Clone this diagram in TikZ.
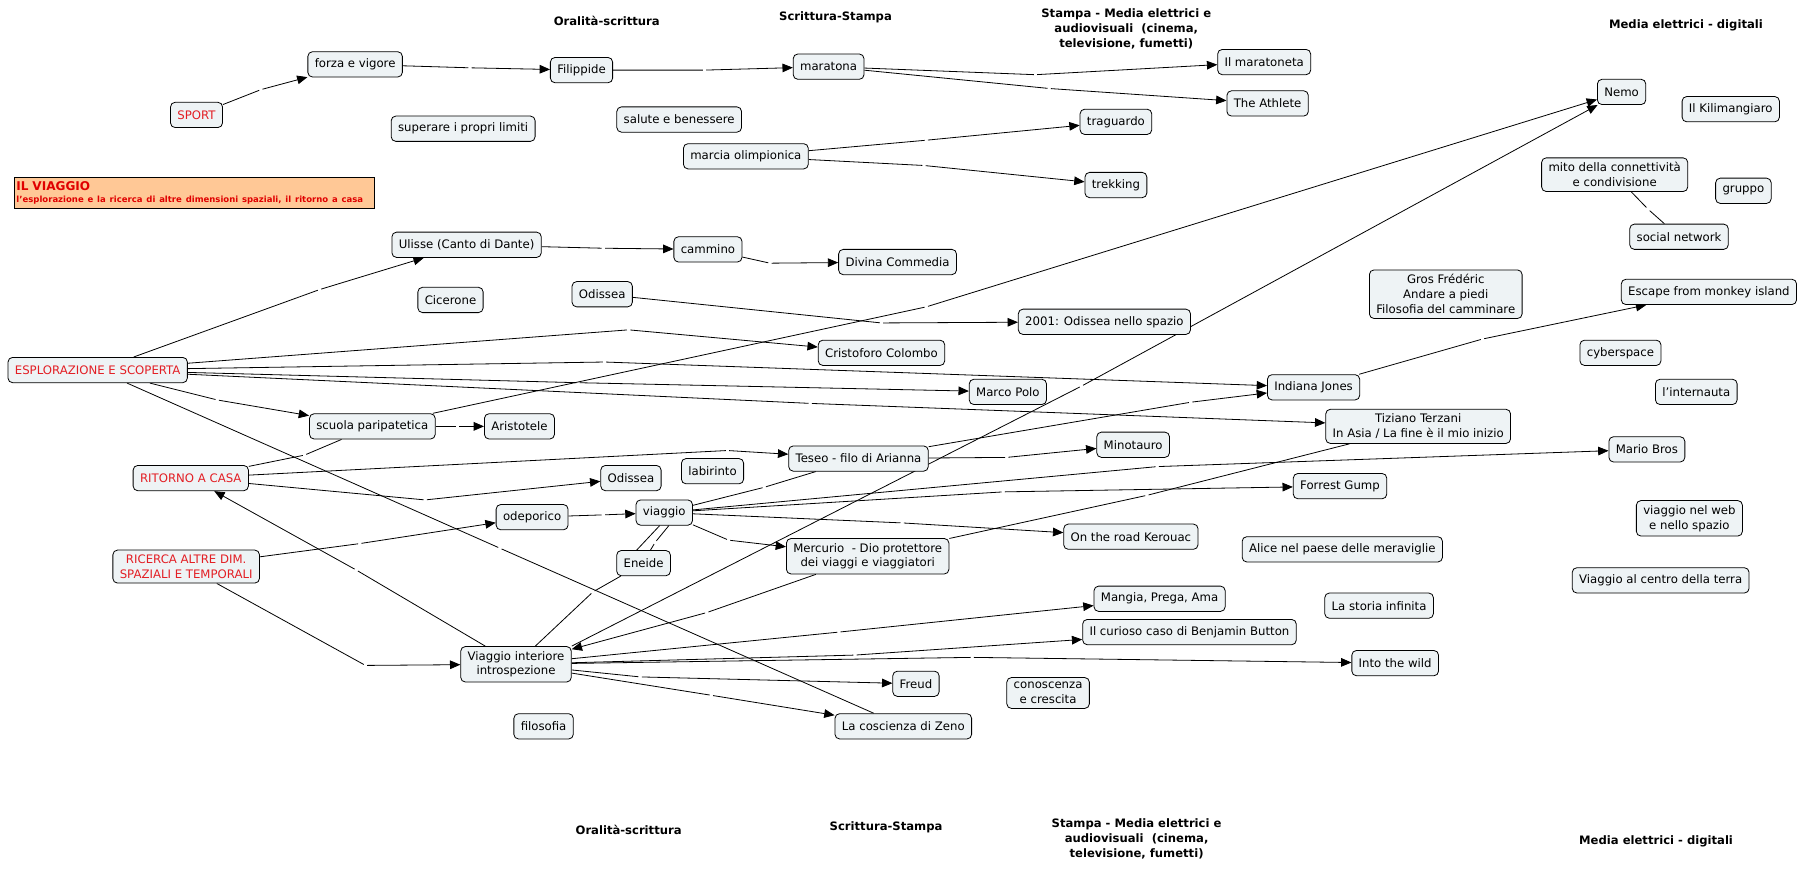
\documentclass[tikz,border=0pt]{standalone}
\usepackage{fontspec}
\setmainfont{DejaVu Sans}
\usepackage{tikz}
\usetikzlibrary{arrows.meta, positioning, backgrounds}
\definecolor{cmapfill}{HTML}{EEF3F5}
\definecolor{cmapred}{HTML}{E31E24}
\definecolor{titlefill}{HTML}{FFC896}
\definecolor{titlered}{HTML}{E00000}

\tikzset{
  concept/.style={draw=black, fill=cmapfill, rounded corners=4pt, line width=0.7pt,
    inner xsep=6pt, inner ysep=4pt, minimum height=22pt, align=center,
    font=\fontsize{10.2}{13}\selectfont},
  redconcept/.style={concept, text=cmapred},
  era/.style={font=\bfseries\fontsize{10.1}{12.8}\selectfont, align=center},
  lp/.style={inner sep=0pt, minimum size=2.5pt},
  conn/.style={line width=0.7pt, -{Triangle[length=9pt,width=7.5pt]}},
  plain/.style={line width=0.7pt},
}

\begin{document}
\begin{tikzpicture}[x=1pt, y=-1pt]
\path[use as bounding box] (0,0) rectangle (1568,758);

% eras, top and bottom
\node[era] (eraA) at (528,18) {Oralità-scrittura};
\node[era] (eraB) at (727,15) {Scrittura-Stampa};
\node[era] (eraC) at (980,25) {Stampa - Media elettrici e\\audiovisuali\ \ (cinema,\\televisione, fumetti)};
\node[era] (eraD) at (1467,22) {Media elettrici - digitali};
\node[era] (eraE) at (547,722) {Oralità-scrittura};
\node[era] (eraF) at (771,720) {Scrittura-Stampa};
\node[era] (eraG) at (989,730) {Stampa - Media elettrici e\\audiovisuali\ \ (cinema,\\televisione, fumetti)};
\node[era] (eraH) at (1441,732) {Media elettrici - digitali};

% title
\node[draw=black, fill=titlefill, line width=0.7pt, anchor=north west, inner xsep=2pt, inner ysep=2pt,
  text width=309pt, minimum height=27pt, align=left, text=titlered] (title) at (12,154)
  {{\bfseries\fontsize{10.5}{12}\selectfont IL VIAGGIO}\\[-1pt]
   {\bfseries\fontsize{7.4}{8.5}\selectfont l'esplorazione e la ricerca di altre dimensioni spaziali, il ritorno a casa}};

% concepts
\node[redconcept] (sport) at (171,100) {SPORT};
\node[concept] (forza) at (309,56) {forza e vigore};
\node[concept] (filippide) at (506,61) {Filippide};
\node[concept] (maratona) at (721,58) {maratona};
\node[concept] (maratoneta) at (1100,54) {Il maratoneta};
\node[concept] (athlete) at (1103,90) {The Athlete};
\node[concept] (nemo) at (1411,80) {Nemo};
\node[concept] (kili) at (1506,95) {Il Kilimangiaro};
\node[concept] (limiti) at (403,112) {superare i propri limiti};
\node[concept] (salute) at (591,104) {salute e benessere};
\node[concept] (marcia) at (649,136) {marcia olimpionica};
\node[concept] (traguardo) at (971,106) {traguardo};
\node[concept] (trekking) at (971,161) {trekking};
\node[concept] (mito) at (1405,152) {mito della connettività\\e condivisione};
\node[concept] (gruppo) at (1517,166) {gruppo};
\node[concept] (social) at (1461,206) {social network};
\node[concept] (ulisse) at (406,213) {Ulisse (Canto di Dante)};
\node[concept] (cammino) at (616,217) {cammino};
\node[concept] (divina) at (781,228) {Divina Commedia};
\node[concept] (gros) at (1258,256) {Gros Frédéric\\Andare a piedi\\Filosofia del camminare};
\node[concept] (escape) at (1487,254) {Escape from monkey island};
\node[concept] (cicerone) at (392,261) {Cicerone};
\node[concept] (odisseaA) at (524,256) {Odissea};
\node[concept] (spazio) at (961,280) {2001: Odissea nello spazio};
\node[concept] (colombo) at (767,307) {Cristoforo Colombo};
\node[concept] (cyber) at (1410,307) {cyberspace};
\node[redconcept] (esplor) at (85,322) {ESPLORAZIONE E SCOPERTA};
\node[concept] (marcopolo) at (877,341) {Marco Polo};
\node[concept] (indiana) at (1143,337) {Indiana Jones};
\node[concept] (internauta) at (1476,341) {l'internauta};
\node[concept] (scuola) at (324,371) {scuola paripatetica};
\node[concept] (aristotele) at (452,371) {Aristotele};
\node[concept] (terzani) at (1234,371) {Tiziano Terzani\\In Asia / La fine è il mio inizio};
\node[concept] (minotauro) at (986,387) {Minotauro};
\node[concept] (teseo) at (747,399) {Teseo - filo di Arianna};
\node[concept] (mario) at (1433,391) {Mario Bros};
\node[redconcept] (ritorno) at (166,416) {RITORNO A CASA};
\node[concept] (odisseaB) at (549,416) {Odissea};
\node[concept] (labirinto) at (620,410) {labirinto};
\node[concept] (forrest) at (1166,423) {Forrest Gump};
\node[concept] (web) at (1470,451) {viaggio nel web\\e nello spazio};
\node[concept] (odeporico) at (463,450) {odeporico};
\node[concept] (viaggio) at (578,446) {viaggio};
\node[concept] (kerouac) at (984,467) {On the road Kerouac};
\node[concept] (alice) at (1168,478) {Alice nel paese delle meraviglie};
\node[redconcept] (ricerca) at (162,493) {RICERCA ALTRE DIM.\\SPAZIALI E TEMPORALI};
\node[concept] (eneide) at (560,490) {Eneide};
\node[concept] (mercurio) at (755,484) {Mercurio\ \ - Dio protettore\\dei viaggi e viaggiatori};
\node[concept] (centro) at (1445,505) {Viaggio al centro della terra};
\node[concept] (mangia) at (1009,521) {Mangia, Prega, Ama};
\node[concept] (storia) at (1200,527) {La storia infinita};
\node[concept] (button) at (1035,550) {Il curioso caso di Benjamin Button};
\node[concept] (interiore) at (449,578) {Viaggio interiore\\introspezione};
\node[concept] (wild) at (1214,577) {Into the wild};
\node[concept] (freud) at (797,595) {Freud};
\node[concept] (crescita) at (912,603) {conoscenza\\e crescita};
\node[concept] (filosofia) at (473,632) {filosofia};
\node[concept] (zeno) at (786,632) {La coscienza di Zeno};

% empty linking phrases
\foreach \n/\x/\y in {l1/227/78, l2/409/59, l3/613/61, l4/901/65, l5/913/77,
  l6/806/122, l7/804/144, l8/278/252, l9/525/216, l10/670/229, l11/767/281,
  l12/547/287, l13/526/315, l14/503/333, l15/705/351, l16/189/348, l17/398/371,
  l18/806/267, l19/435/477, l20/265/396, l21/633/392, l22/370/435, l23/310/496,
  l24/313/473, l25/318/579, l26/525/448, l27/665/424, l28/1007/406, l29/873/428,
  l30/785/455, l31/634/470, l32/570/472, l33/516/515, l34/941/336, l35/615/533,
  l36/998/431, l37/1036/350, l38/876/398, l39/1290/295, l40/1434/182,
  l41/730/550, l42/744/570, l43/846/572, l44/557/589, l45/619/605}
  \node[lp] (\n) at (\x,\y) {};

\begin{scope}[on background layer]
\fill[white] (0,0) rectangle (1568,758);
% sport
\draw[conn] (sport) -- (l1) -- (forza);
\draw[conn] (forza) -- (l2) -- (filippide);
\draw[conn] (filippide) -- (l3) -- (maratona);
\draw[conn] (maratona) -- (l4) -- (maratoneta);
\draw[conn] (maratona) -- (l5) -- (athlete);
\draw[conn] (marcia) -- (l6) -- (traguardo);
\draw[conn] (marcia) -- (l7) -- (trekking);
% esplorazione
\draw[conn] (esplor) -- (l8) -- (ulisse);
\draw[conn] (ulisse) -- (l9) -- (cammino);
\draw[conn] (cammino) -- (l10) -- (divina);
\draw[conn] (odisseaA) -- (l11) -- (spazio);
\draw[conn] (esplor) -- (l12) -- (colombo);
\draw[conn] (esplor) -- (l13) -- (indiana);
\draw[conn] (esplor) -- (l14) -- (marcopolo);
\draw[conn] (esplor) -- (l15) -- (terzani);
\draw[conn] (esplor) -- (l16) -- (scuola);
\draw[conn] (scuola) -- (l17) -- (aristotele);
\draw[conn] (scuola) -- (l18) -- (nemo);
\draw[plain] (esplor) -- (l19) -- (zeno);
% ritorno
\draw[plain] (ritorno) -- (l20) -- (scuola);
\draw[conn] (ritorno) -- (l21) -- (teseo);
\draw[conn] (ritorno) -- (l22) -- (odisseaB);
\draw[conn] (interiore) -- (l23) -- (ritorno);
% ricerca
\draw[conn] (ricerca) -- (l24) -- (odeporico);
\draw[conn] (ricerca) -- (l25) -- (interiore);
\draw[conn] (odeporico) -- (l26) -- (viaggio);
% viaggio
\draw[plain] (viaggio) -- (l27) -- (teseo);
\draw[conn] (viaggio) -- (l28) -- (mario);
\draw[conn] (viaggio) -- (l29) -- (forrest);
\draw[conn] (viaggio) -- (l30) -- (kerouac);
\draw[conn] (viaggio) -- (l31) -- (mercurio);
\draw[plain] ([xshift=-4pt]viaggio.south) -- ([xshift=-6pt]eneide.north);
\draw[plain] ([xshift=4pt]viaggio.south) -- (l32) -- ([xshift=6pt]eneide.north);
\draw[plain] (interiore) -- (l33) -- (eneide);
\draw[conn] (interiore.north east) -- (l34) -- (nemo);
\draw[conn] (mercurio) -- (l35) -- (interiore);
\draw[plain] (terzani) -- (l36) -- (mercurio);
\draw[conn] (teseo) -- (l37) -- (indiana);
\draw[conn] (teseo) -- (l38) -- (minotauro);
\draw[conn] (indiana) -- (l39) -- (escape);
\draw[plain] (mito) -- (l40) -- (social);
% interiore
\draw[conn] (interiore) -- (l41) -- (mangia);
\draw[conn] (interiore) -- (l42) -- (button);
\draw[conn] (interiore) -- (l43) -- (wild);
\draw[conn] (interiore) -- (l44) -- (freud);
\draw[conn] (interiore) -- (l45) -- (zeno);
\end{scope}
\end{tikzpicture}
\end{document}
